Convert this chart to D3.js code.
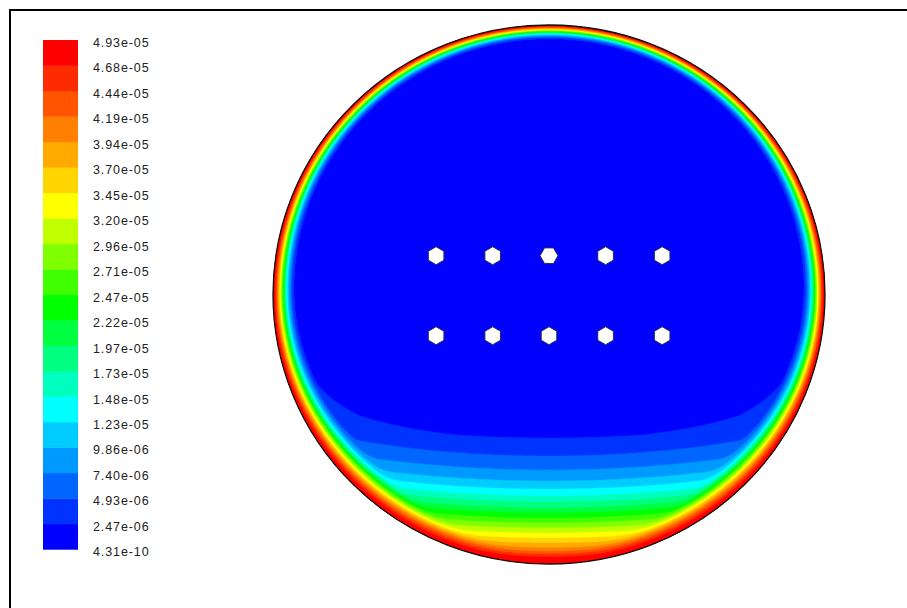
<!DOCTYPE html>
<html><head><meta charset="utf-8">
<script src="https://cdn.jsdelivr.net/npm/d3@7"></script>
<style>html,body{margin:0;padding:0;background:#fff;} svg{display:block;}</style>
</head><body><svg id="c" width="907" height="608"></svg>
<script>
// ---- data ----
// legend levels (bottom -> top)
const levelLabels = ["4.31e-10","2.47e-06","4.93e-06","7.40e-06","9.86e-06","1.23e-05","1.48e-05","1.73e-05","1.97e-05","2.22e-05","2.47e-05","2.71e-05","2.96e-05","3.20e-05","3.45e-05","3.70e-05","3.94e-05","4.19e-05","4.44e-05","4.68e-05","4.93e-05"];
// band colours (bottom -> top)
const bandColors = ["#0000ff","#0033ff","#0066ff","#0099ff","#00ccff","#00ffff","#00ffbf","#00ff80","#00ff40","#00ff00","#40ff00","#80ff00","#bfff00","#ffff00","#ffd500","#ffaa00","#ff8000","#ff5500","#ff2b00","#ff0000"];
// wall boundary layer: normalised distance from wall where level k (1..19) is reached (mid-height)
const ringDepth = [0.0759,0.0685,0.0622,0.0567,0.0519,0.0481,0.0448,0.0419,0.0389,0.0359,0.0330,0.0300,0.0270,0.0241,0.0211,0.0181,0.0148,0.0111,0.0074];
// bottom pool: normalised vertical coordinate on the centreline where level k (1..19) is reached
const poolDepth = [0.5325,0.5993,0.6512,0.6920,0.7217,0.7477,0.7699,0.7922,0.8108,0.8293,0.8479,0.8664,0.8850,0.9035,0.9221,0.9406,0.9555,0.9666,0.9777];
// tube (hole) centres in normalised domain coordinates
const holeU = [-0.409,-0.204,0,0.205,0.410];
const holeW = [-0.144,0.153];
const flatHole = [0,2]; // [row, col] of the hole drawn flat-side up

const levels = levelLabels.map(Number);

// ---- layout ----
const svg = d3.select("#c");
const cx = 549, cy = 294.5, rx = 276, ry = 269.5;
const xS = d3.scaleLinear().domain([-1,1]).range([cx-rx, cx+rx]);
const yS = d3.scaleLinear().domain([-1,1]).range([cy-ry, cy+ry]);

// frame
svg.append("line").attr("x1",9).attr("y1",10).attr("x2",907).attr("y2",10).attr("stroke","#000").attr("stroke-width",2);
svg.append("line").attr("x1",10).attr("y1",9).attr("x2",10).attr("y2",608).attr("stroke","#000").attr("stroke-width",2);

// ---- field ----
const ringL = d3.scaleLinear().domain([0.25, ...ringDepth, 0]).range(d3.range(0,21)).clamp(true);
const poolL = d3.scaleLinear().domain([0.40, ...poolDepth, 1.0]).range(d3.range(0,21)).clamp(true);
const valueOf = d3.scaleLinear().domain(d3.range(0,21)).range(levels).clamp(true);
const poolCurve = 0.10, soft = 1.3;
const thickness = w => 1 + 0.35*w + (w > 0 ? 1.3*w*w : 0);

const step = 1;
const x0 = cx - rx - 2, y0 = cy - ry - 2;
const nx = Math.ceil((2*rx+4)/step)+1, ny = Math.ceil((2*ry+4)/step)+1;
const values = new Float64Array(nx*ny);
for (let j=0;j<ny;j++){
  const w = yS.invert(y0 + j*step);
  const th = thickness(w);
  for (let i=0;i<nx;i++){
    const u = xS.invert(x0 + i*step);
    const r = Math.sqrt(u*u+w*w);
    let L;
    if (r >= 1) L = 20;
    else {
      const a = ringL((1-r)/th);
      const b = poolL(w + poolCurve*u*u);
      const m = Math.max(a,b);
      L = m + Math.log(1+Math.exp(-soft*Math.abs(a-b)))/soft - Math.log(1+Math.exp(-soft*m))/soft;
    }
    values[j*nx+i] = valueOf(Math.min(L,20));
  }
}
const contours = d3.contours().size([nx,ny]).thresholds(levels.slice(1,20))(values);
const proj = d3.geoTransform({point:function(x,y){ this.stream.point(x0+(x-0.5)*step, y0+(y-0.5)*step); }});
const path = d3.geoPath(proj);

const defs = svg.append("defs");
defs.append("clipPath").attr("id","dom").append("ellipse").attr("cx",xS(0)).attr("cy",yS(0)).attr("rx",xS(1)-xS(0)).attr("ry",yS(1)-yS(0));

const g = svg.append("g").attr("clip-path","url(#dom)");
g.append("ellipse").attr("cx",xS(0)).attr("cy",yS(0)).attr("rx",xS(1)-xS(0)).attr("ry",yS(1)-yS(0)).attr("fill",bandColors[0]);
const colorOf = d3.scaleThreshold().domain(levels.slice(1,20)).range(bandColors);
g.selectAll("path.band").data(contours).join("path").attr("class","band")
  .attr("d",path).attr("fill",d=>colorOf(d.value)).attr("stroke",d=>colorOf(d.value)).attr("stroke-width",0.3);

svg.append("ellipse").attr("cx",xS(0)).attr("cy",yS(0)).attr("rx",xS(1)-xS(0)).attr("ry",yS(1)-yS(0))
  .attr("fill","none").attr("stroke","#111").attr("stroke-width",1.3);

// holes
const hexR = 9;
holeW.forEach((hw,ri)=>holeU.forEach((hu,ci)=>{
  const flat = (ri===flatHole[0] && ci===flatHole[1]);
  const pts = d3.range(6).map(k=>{
    const ang = (flat ? 0 : Math.PI/2) + k*Math.PI/3;
    return [xS(hu)+hexR*Math.cos(ang), yS(hw)+hexR*Math.sin(ang)];
  });
  svg.append("polygon").attr("points",pts.map(p=>p.join(",")).join(" "))
    .attr("fill","#fff").attr("stroke","#2a2a55").attr("stroke-width",1);
}));

// ---- legend ----
const yL = d3.scaleLinear().domain([0,20]).range([549.3,40]);
const leg = svg.append("g");
leg.selectAll("rect").data(bandColors).join("rect")
  .attr("x",43).attr("width",35)
  .attr("y",(d,i)=>yL(i+1)).attr("height",(d,i)=>yL(i)-yL(i+1)+0.4)
  .attr("fill",d=>d);
leg.selectAll("text").data(levelLabels).join("text")
  .attr("x",93).attr("y",(d,i)=>yL(i)+7)
  .attr("font-family","Arial, 'Liberation Sans', sans-serif").attr("font-size",12.5).attr("fill","#222")
  .attr("letter-spacing",0.9)
  .text(d=>d);
</script></body></html>
